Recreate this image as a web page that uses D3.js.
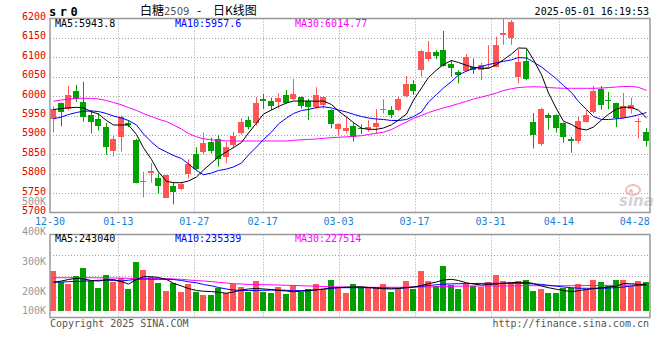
<!DOCTYPE html>
<html><head><meta charset="utf-8">
<script src="https://cdn.jsdelivr.net/npm/d3@7"></script>
<style>body{margin:0;background:#fff}svg{display:block}</style>
</head><body>
<svg id="c" width="660" height="360"></svg>
<script>
const dates = ["12-30","12-31","01-02","01-03","01-06","01-07","01-08","01-09","01-10","01-13","01-14","01-15","01-16","01-17","01-20","01-21","01-22","01-23","01-24","01-27","02-05","02-06","02-07","02-10","02-11","02-12","02-13","02-14","02-17","02-18","02-19","02-20","02-21","02-24","02-25","02-26","02-27","02-28","03-03","03-04","03-05","03-06","03-07","03-10","03-11","03-12","03-13","03-14","03-17","03-18","03-19","03-20","03-21","03-24","03-25","03-26","03-27","03-28","03-31","04-01","04-02","04-03","04-07","04-08","04-09","04-10","04-11","04-14","04-15","04-16","04-17","04-18","04-21","04-22","04-23","04-24","04-25","04-28","04-29","04-30"];
const open  = [5940,5981,5967,6012,5984,5952,5940,5920,5859,5894,5930,5887,5778,5803,5788,5738,5768,5761,5798,5850,5855,5882,5889,5844,5874,5906,5938,5930,5992,5988,5986,6003,5992,5997,5988,5971,5977,5964,5914,5911,5924,5917,5915,5921,5963,5964,5964,5999,6031,6066,6096,6114,6119,6084,6063,6065,6076,6066,6072,6076,6157,6149,6050,6091,5934,5877,5951,5951,5930,5889,5883,5934,5958,6019,5989,5981,5943,5967,5933,5908];
const high  = [5973,5983,6026,6029,6037,5964,5956,5931,5897,5950,5938,5890,5805,5827,5801,5797,5779,5779,5837,5868,5906,5893,5900,5882,5908,5943,5947,5998,6005,5996,6007,6016,6044,5999,5993,6023,5999,5966,5930,5947,5932,5927,5938,5966,5992,5974,5998,6052,6041,6119,6142,6118,6168,6093,6067,6108,6097,6086,6131,6153,6200,6196,6121,6121,5956,5970,5956,5953,5932,5895,5947,5964,6026,6026,6011,5983,6008,5996,5943,5918];
const low   = [5906,5922,5963,5985,5934,5904,5911,5848,5844,5857,5920,5775,5739,5777,5749,5738,5721,5758,5788,5809,5851,5852,5818,5827,5865,5900,5914,5924,5967,5964,5968,5981,5990,5968,5938,5967,5968,5917,5900,5904,5883,5902,5908,5904,5955,5943,5962,5997,6003,6050,6089,6095,6076,6050,6033,6063,6057,6041,6070,6074,6132,6132,6033,6041,5865,5872,5913,5906,5880,5854,5878,5932,5955,5965,5966,5920,5942,5955,5891,5870];
const close = [5968,5959,6003,5993,5945,5934,5922,5870,5889,5947,5925,5777,5780,5807,5768,5797,5754,5773,5825,5813,5878,5859,5837,5868,5897,5934,5921,5983,5987,5974,5996,5983,6005,5974,5971,6003,5997,5928,5928,5919,5895,5914,5921,5930,5967,5951,5992,6031,6014,6117,6113,6103,6078,6072,6054,6102,6067,6080,6076,6132,6163,6192,6089,6044,5900,5968,5943,5917,5894,5883,5936,5951,6012,5976,5987,5943,5974,5977,5935,5885];
const volume = [268000,229000,223000,251000,278000,233000,211000,253000,231000,245000,207000,298000,270000,248000,228000,200000,228000,197000,223000,196000,187000,187000,209000,192000,222000,213000,198000,233000,198000,193000,213000,190000,216000,198000,207000,223000,205000,237000,209000,195000,223000,213000,213000,209000,223000,197000,207000,233000,207000,268000,233000,217000,285000,220000,207000,222000,217000,213000,231000,253000,233000,229000,233000,237000,200000,207000,193000,193000,209000,209000,223000,207000,237000,230000,217000,237000,237000,217000,234000,230000];
const ma5  = [5965.4,5968,5969.8,5971.1,5969.8,5959.5,5953.8,5937.1,5925.5,5925.5,5925.5,5901,5866.7,5836.6,5804.4,5780.4,5776.8,5776.8,5781.2,5791.5,5809.5,5827.6,5843,5856.4,5867.5,5880.4,5904.9,5930.6,5953.8,5964.1,5973.2,5982.2,5987.3,5987.3,5987.3,5986.8,5987.3,5978.3,5961.6,5946.1,5931.9,5917,5914.4,5914.4,5917.8,5926,5938.4,5953.8,5989.9,6020.8,6047.9,6067.2,6081.4,6091.7,6086.6,6079.3,6074.2,6071.6,6071.6,6081.4,6093.8,6108.5,6123.9,6123.4,6093.6,6054.9,6008,5967,5935.3,5926.8,5916.5,5912.6,5920.3,5938.4,5953.1,5966.7,5971.4,5971.1,5963.6,5943.8];
const ma10 = [5941.5,5946.1,5952.5,5957.7,5961,5961.6,5960.3,5955.1,5948.7,5943.5,5937.1,5925.5,5902.3,5881.7,5866.2,5855.9,5846.9,5839.2,5825,5808.2,5797.2,5801.8,5808.2,5812.1,5817.3,5827.6,5848.2,5868.8,5888.1,5907.4,5928.1,5943.5,5955.1,5962.9,5965.4,5970.6,5972.6,5969.3,5964.1,5959,5953.1,5947.4,5943.5,5940.9,5939.7,5937.1,5937.1,5939.7,5947.4,5959,5984.8,6004.1,6020.8,6037.6,6054.3,6064.6,6071.1,6076.2,6081.4,6085.8,6089.6,6093.5,6099.4,6098.1,6087.8,6075,6060.8,6044,6027.3,6009.2,5986,5965.4,5947.4,5939.7,5939.7,5941.5,5943.5,5947.4,5951.8,5957.6];
const ma30 = [5986.8,5989.9,5992.5,5994,5994.3,5994.3,5992.5,5988.6,5983.5,5977.5,5970.6,5962.9,5955.1,5947.4,5940.2,5934.5,5925.5,5915.2,5903.6,5895.1,5889.9,5887.3,5885.5,5884.8,5884.3,5884.3,5884.3,5884.3,5884.3,5884.3,5884.3,5884.3,5886.1,5887.3,5888.4,5889.4,5891.2,5892.8,5893.8,5895.1,5896.4,5897.9,5901,5904.1,5906.9,5913.9,5923.4,5933.2,5942.8,5950,5957.7,5964.1,5969.8,5975,5980.6,5986.6,5992.5,5997.6,6002,6008,6014.4,6019,6022.1,6023.4,6024.2,6023.4,6022.1,6020.8,6020.1,6020.1,6020.1,6020.1,6020.1,6020.8,6022.1,6023.4,6024.7,6025,6022.5,6014.77];
const volMa5  = [229,233.3,238.3,242.3,240,235,233.3,236.7,238.3,231,223.3,238.3,247.7,247.7,245,238.3,225.7,216.7,208.3,201.7,199.3,198,195.7,192.7,196.7,203.3,206.7,208.3,206.7,205,201.7,200,197.7,199.3,200.7,204,206.7,211,211.7,212.7,213.3,214.3,211.7,209.3,207.7,206.7,208.3,211.7,213.3,218.3,224.3,230,236.7,239,235,227.3,223.3,220,221.7,223.3,225.7,227.7,229,229,225,216.7,211,205.7,201.7,197.7,201,205,207.7,210.7,213.3,216.7,225,224,222.3,222.3];
const volMa10 = [229,230,231,232,233,234,235.7,236.7,235,233.3,236,239,240,239.3,239,239,238.3,235,230.7,227.3,221.7,217.3,211.7,206.7,203.3,201.7,201.3,201.7,202.3,203,203.3,202.3,201.3,201.3,202.7,204,205.7,208.3,211,211,211,211,211,210.7,210,209.3,209,210.7,213.3,215.7,218.3,220.7,222.7,223.7,224.3,224.7,225,225.3,225.7,225.7,225.7,225.7,225.7,224.7,223.3,222,219,216,213.3,211,209.3,209,209,209,210,211.3,213.3,216.7,218.7,220];
const volMa30 = [244.3,244.3,244.3,244.3,244.3,244.3,244,243.7,243.3,243,242.3,241.7,241.7,241.7,241.7,241.7,240,239,236.7,234.7,233.3,231.3,229,226.7,224.3,223.3,222,221.7,221,220.5,220,219,218.3,217.5,216.7,216,215,214.3,213.3,213,212.7,212.3,212.3,212.3,212.3,212.3,212.3,212.7,213,213.3,213.3,214,215,215.5,216,216.3,216.7,216.7,216.7,216.7,216.7,217,217.3,217.7,217.7,217.7,217.7,217.7,217.7,217.7,217.7,218.3,218.3,218.7,219,219,219.3,219.5,219.7,220];
const priceTicks = [5700,5750,5800,5850,5900,5950,6000,6050,6100,6150,6200];
const volTicks = [100000,200000,300000,400000,500000];
const tickDates = ["12-30","01-13","01-27","02-17","03-03","03-17","03-31","04-14","04-28"];
const legendMain = [{t:"MA5:5943.8",c:"#000",x:55},{t:"MA10:5957.6",c:"#0000ff",x:175},{t:"MA30:6014.77",c:"#ff00ff",x:295}];
const legendVol = [{t:"MA5:243040",c:"#000",x:55},{t:"MA10:235339",c:"#0000ff",x:175},{t:"MA30:227514",c:"#ff00ff",x:295}];

const RED="#ff5555", GREEN="#00a000";
const L=50, R=650, mTop=18.5, mBot=212.5, vTop=234.5, vBot=317.5, vBase=310.5;
const MONO="'DejaVu Sans Mono', monospace";
const svg=d3.select("#c");
const n=dates.length;
const xb=d3.scaleBand().domain(d3.range(n)).range([50,649]).paddingInner(0.2).paddingOuter(0);
const xt=d3.scaleLinear().domain([0,n-1]).range([L,R]);
const yp=d3.scaleLinear().domain([5700,6200]).range([mBot,mTop]);
const yv=d3.scaleLinear().domain([100000,500000]).range([321,201]);
const bx=i=>Math.round(xb(i));
const cx=i=>bx(i)+3;

// grid
const grid=svg.append("g").attr("stroke","#a0a0a0").attr("stroke-dasharray","1,2").attr("stroke-width",1);
priceTicks.filter(v=>v>5700&&v<6200).forEach(v=>{
  const y=Math.round(yp(v))+0.5;
  grid.append("line").attr("x1",L).attr("x2",R).attr("y1",y).attr("y2",y);
});
[1,2,3].forEach(k=>{
  const y=Math.round(vTop+k*(vBot-vTop)/4)+0.5;
  grid.append("line").attr("x1",L).attr("x2",R).attr("y1",y).attr("y2",y);
});
const tickIdx=tickDates.map(d=>dates.indexOf(d));
tickIdx.forEach(i=>{
  if(i<=0) return;
  const x=Math.round(xt(i))+0.5;
  if(x>=R-20) return;
  grid.append("line").attr("x1",x).attr("x2",x).attr("y1",mTop).attr("y2",mBot);
  grid.append("line").attr("x1",x).attr("x2",x).attr("y1",vTop).attr("y2",vBot);
});

// watermark
const wm=svg.append("g").attr("opacity",0.55);
wm.append("ellipse").attr("cx",633).attr("cy",190).attr("rx",7).attr("ry",5).attr("fill","none").attr("stroke","#f08080").attr("stroke-width",2);
wm.append("circle").attr("cx",631).attr("cy",191).attr("r",2).attr("fill","#f08080");
wm.append("text").attr("x",619).attr("y",206).attr("font-family","'DejaVu Sans',sans-serif").attr("font-size",15).attr("font-weight","bold").attr("font-style","italic").attr("fill","#b0b0b0").text("sina");

// candles
const cg=svg.append("g");
d3.range(n).forEach(i=>{
  const up=close[i]>=open[i];
  const col=up?RED:GREEN;
  cg.append("line").attr("x1",cx(i)+0.5).attr("x2",cx(i)+0.5)
    .attr("y1",yp(high[i])).attr("y2",yp(low[i])).attr("stroke",col).attr("stroke-width",1);
  const t=yp(Math.max(open[i],close[i])), b=yp(Math.min(open[i],close[i]));
  cg.append("rect").attr("x",bx(i)).attr("width",6).attr("y",Math.round(t))
    .attr("height",Math.max(1,Math.round(b)-Math.round(t))).attr("fill",col).attr("shape-rendering","crispEdges");
});

// volume bars
const vg=svg.append("g");
d3.range(n).forEach(i=>{
  const col=close[i]>=open[i]?RED:GREEN;
  const t=Math.round(yv(volume[i]));
  vg.append("rect").attr("x",bx(i)).attr("width",6).attr("y",t).attr("height",vBase-t)
    .attr("fill",col).attr("shape-rendering","crispEdges");
});

// MA lines
const lineP=d3.line().x((d,i)=>cx(i)+0.5).y(d=>yp(d));
const lineV=d3.line().x((d,i)=>cx(i)+0.5).y(d=>yv(d*1000));
[[ma30,"#ff00ff"],[ma10,"#0000ff"],[ma5,"#000"]].forEach(([a,c])=>{
  svg.append("path").attr("d",lineP(a)).attr("fill","none").attr("stroke",c).attr("stroke-width",1);
});
[[volMa30,"#ff00ff"],[volMa10,"#0000ff"],[volMa5,"#000"]].forEach(([a,c])=>{
  svg.append("path").attr("d",lineV(a)).attr("fill","none").attr("stroke",c).attr("stroke-width",1);
});

// borders
const bd=svg.append("g").attr("fill","none").attr("stroke","#999").attr("stroke-width",1.5);
bd.append("rect").attr("x",L).attr("y",mTop).attr("width",R-L).attr("height",mBot-mTop);
bd.append("rect").attr("x",L).attr("y",vTop).attr("width",R-L).attr("height",vBot-vTop);

// axis labels
const tx=svg.append("g").attr("font-family",MONO).attr("font-size",10);
priceTicks.forEach(v=>{
  tx.append("text").attr("x",46).attr("y",yp(v)+1.5).attr("text-anchor","end").attr("fill","#e00000").text(v);
});
volTicks.forEach(v=>{
  tx.append("text").attr("x",46).attr("y",Math.min(yv(v),310)+3.5).attr("text-anchor","end").attr("fill","#999").text((v/1000)+"K");
});
tickDates.forEach((d,k)=>{
  tx.append("text").attr("x",xt(tickIdx[k])).attr("y",225).attr("text-anchor","middle").attr("fill","#1a7fd4").text(d);
});
legendMain.forEach(l=>tx.append("text").attr("x",l.x).attr("y",27).attr("fill",l.c).text(l.t));
legendVol.forEach(l=>tx.append("text").attr("x",l.x).attr("y",242).attr("fill",l.c).text(l.t));
tx.append("text").attr("x",50).attr("y",327).attr("fill","#555").text("Copyright 2025 SINA.COM");
tx.append("text").attr("x",649).attr("y",327).attr("text-anchor","end").attr("fill","#555").text("http://finance.sina.com.cn");
tx.append("text").attr("x",649).attr("y",15).attr("text-anchor","end").attr("fill","#000").text("2025-05-01 16:19:53");

// header
svg.append("text").attr("x",49).attr("y",16).attr("font-family",MONO).attr("font-weight","bold").attr("font-size",12).attr("letter-spacing",3.5).attr("fill","#000").text("sr0");
const CJK="'Noto Sans CJK SC',sans-serif";
svg.append("text").attr("x",140).attr("y",15).attr("font-family",CJK).attr("font-size",12).attr("fill","#000").text("白糖");
svg.append("text").attr("x",164).attr("y",15).attr("font-family","'DejaVu Sans',sans-serif").attr("font-size",10).attr("fill","#555").text("2509");
svg.append("text").attr("x",197).attr("y",15).attr("font-family",CJK).attr("font-size",12).attr("fill","#000").text("-");
svg.append("text").attr("x",213).attr("y",15).attr("font-family",CJK).attr("font-size",12).attr("fill","#000").text("日K线图");
</script>
</body></html>
